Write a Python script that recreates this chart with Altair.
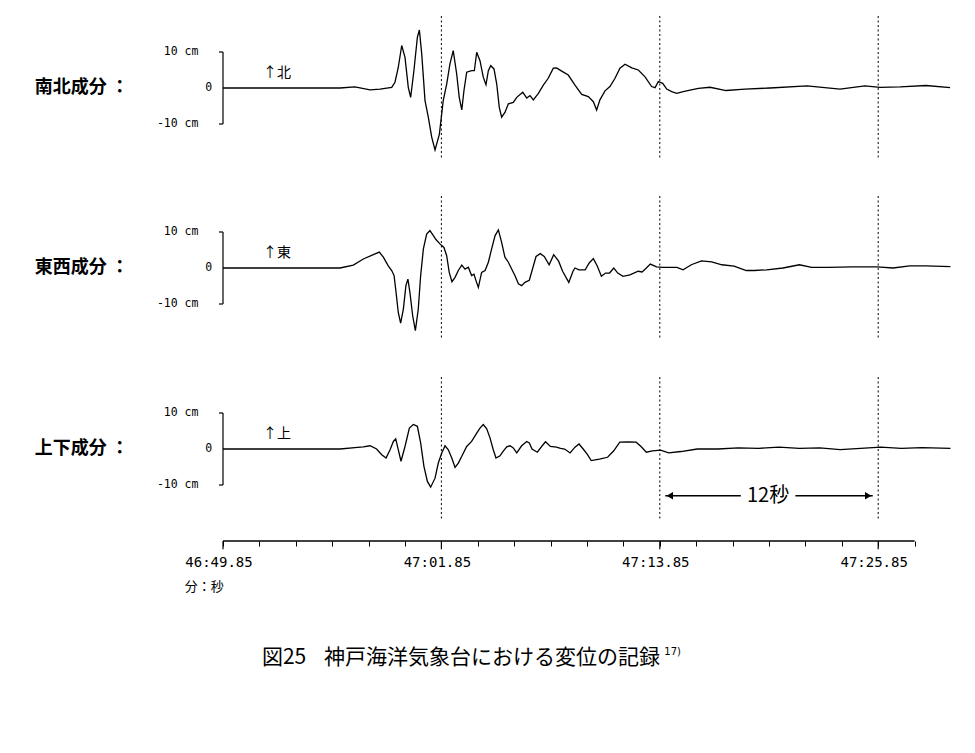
import altair as alt
import pandas as pd

# ---------------- data (time: seconds after 46:49.85, displacement: cm) ----------------
NS = [(0, 0), (6.43, 0), (7.25, 0.3), (8.08, -0.5), (8.63, -0.3), (9.27, 0.2), (9.45, 1.6),
      (9.63, 5.7), (9.82, 11.8), (10.0, 8.5), (10.18, 0.2), (10.31, -2.6), (10.49, 4.8),
      (10.68, 14.1), (10.79, 16.1), (10.92, 9.4), (11.10, -3.5), (11.28, -8.1), (11.47, -13.7),
      (11.65, -17.2), (11.89, -12.8), (12.10, -3.5), (12.29, 1.1), (12.47, 6.7), (12.65, 10.4),
      (12.84, 3.9), (12.98, -2.6), (13.12, -6.1), (13.24, -0.7), (13.39, 4.4), (13.66, 4.8),
      (13.81, 4.8), (13.94, 9.9), (14.12, 7.6), (14.30, 3.0), (14.45, 0.9), (14.58, 4.8),
      (14.71, 6.2), (14.89, 5.3), (15.04, 1.1), (15.18, -5.4), (15.31, -8.1), (15.49, -6.8),
      (15.68, -4.4), (15.95, -4.0), (16.14, -2.6), (16.47, -1.2), (16.69, -2.8), (16.87, -2.1),
      (17.05, -3.3), (17.33, -1.5), (17.60, 0.8), (17.87, 2.7), (18.15, 5.5), (18.33, 5.6),
      (18.61, 4.7), (18.97, 3.6), (19.34, 0.8), (19.71, -1.8), (20.07, -2.4), (20.35, -3.8),
      (20.53, -6.1), (20.71, -3.3), (20.99, -0.8), (21.26, 0.4), (21.54, 2.7), (21.81, 5.5),
      (22.09, 6.6), (22.46, 5.6), (22.82, 5.0), (23.19, 3.1), (23.55, 0.4), (23.74, 0.1),
      (23.92, 1.8), (24.16, 1.3), (24.38, -0.3), (24.65, -1.0), (24.93, -1.5), (25.29, -1.0),
      (25.66, -0.6), (26.12, -0.1), (26.76, 0.2), (27.64, -0.7), (28.68, -0.3), (30.05, 0.0),
      (32.09, 0.6), (33.90, -0.3), (35.27, 0.6), (36.10, 0.2), (37.20, 0.3), (38.63, 0.7),
      (39.95, 0.1)]

EW = [(0, 0), (6.43, 0), (7.16, 0.8), (7.71, 2.5), (8.26, 3.7), (8.59, 4.4), (8.81, 3.0),
      (9.08, 0.6), (9.27, -0.7), (9.40, -2.1), (9.51, -6.8), (9.63, -12.3), (9.76, -15.3),
      (9.91, -11.4), (10.05, -4.9), (10.16, -3.1), (10.27, -6.8), (10.42, -13.2), (10.57, -17.4),
      (10.73, -11.4), (10.86, -2.1), (11.01, 5.3), (11.19, 9.4), (11.37, 10.4), (11.56, 9.0),
      (11.70, 7.9), (11.92, 6.7), (12.14, 5.7), (12.29, 3.4), (12.43, -1.2), (12.58, -3.8),
      (12.75, -2.6), (12.93, -0.7), (13.12, 0.8), (13.30, -0.3), (13.48, 0.2), (13.66, -2.1),
      (13.79, -1.7), (13.90, -3.5), (14.03, -5.4), (14.21, -1.2), (14.40, -0.7), (14.58, 1.6),
      (14.76, 5.3), (14.95, 9.0), (15.13, 10.6), (15.31, 7.1), (15.49, 3.0), (15.68, 1.6),
      (15.86, -0.3), (16.04, -2.1), (16.23, -4.4), (16.41, -4.9), (16.59, -4.0), (16.83, -3.4),
      (17.20, 3.2), (17.43, 4.0), (17.65, 3.2), (17.92, 0.9), (18.17, 3.7), (18.44, 1.9),
      (18.66, -0.9), (19.00, -4.0), (19.23, -0.9), (19.34, 0.0), (19.56, -0.5), (19.90, -0.5),
      (20.12, 1.4), (20.35, 2.6), (20.57, 0.5), (20.79, -2.3), (21.02, -1.4), (21.24, -1.4),
      (21.47, 0.0), (21.69, -1.4), (21.98, -2.3), (22.36, -1.9), (22.81, -0.9), (23.03, -1.1),
      (23.26, 0.0), (23.48, 1.1), (23.82, 0.3), (24.16, 0.2), (24.94, 0.2), (25.28, -0.5),
      (25.73, 0.9), (26.29, 2.0), (26.85, 1.7), (27.41, 0.9), (28.08, 0.5), (28.75, -0.7),
      (29.20, -0.7), (29.87, -0.5), (30.77, 0.0), (31.67, 0.9), (32.34, 0.2), (33.24, 0.2),
      (34.58, 0.3), (35.93, 0.3), (36.82, 0.0), (37.73, 0.6), (38.62, 0.6), (39.97, 0.4)]

UD = [(0, 0), (6.43, 0), (7.25, 0.4), (7.71, 0.6), (8.08, 0.9), (8.44, 0.0), (8.72, -1.6),
      (8.96, -2.5), (9.18, -0.2), (9.36, 2.1), (9.49, 2.8), (9.63, -0.2), (9.78, -3.4),
      (10.0, 0.7), (10.24, 5.8), (10.46, 6.8), (10.68, 6.3), (10.86, 1.7), (11.04, -4.8),
      (11.23, -9.0), (11.41, -10.6), (11.65, -8.1), (11.83, -3.9), (12.02, -1.1), (12.20, 0.9),
      (12.38, -0.2), (12.57, -2.5), (12.75, -5.1), (12.93, -3.9), (13.12, -2.0), (13.39, 0.7),
      (13.66, 2.1), (13.94, 4.4), (14.12, 5.8), (14.30, 6.8), (14.49, 5.6), (14.67, 3.1),
      (14.85, -0.2), (15.0, -2.5), (15.22, -1.9), (15.40, -0.6), (15.59, 0.6), (15.77, 0.9),
      (15.95, 0.3), (16.14, -1.1), (16.41, 0.9), (16.69, 2.1), (16.83, 1.7), (16.98, 0.0),
      (17.27, -0.9), (17.54, 0.9), (17.72, 2.0), (17.99, 0.7), (18.32, 0.5), (18.55, 0.2),
      (18.77, 0.0), (19.07, -1.1), (19.34, 0.5), (19.56, 1.4), (19.79, 0.0), (20.01, -1.4),
      (20.23, -3.2), (20.68, -2.8), (21.13, -2.3), (21.47, -0.5), (21.80, 1.9), (22.25, 2.0),
      (22.70, 1.9), (22.97, 0.7), (23.26, -0.9), (23.59, -0.5), (24.04, -0.3), (24.49, -1.1),
      (25.16, -0.7), (26.06, 0.0), (27.19, 0.0), (28.31, 0.3), (29.43, 0.2), (30.55, 0.5),
      (31.67, 0.2), (32.79, 0.3), (33.91, -0.2), (35.03, 0.2), (36.15, 0.5), (37.27, 0.2),
      (38.40, 0.4), (39.97, 0.2)]

SERIES = [NS, EW, UD]
PANEL_NAMES = ["南北成分 ：", "東西成分 ：", "上下成分 ："]
ARROW_LABELS = ["↑北", "↑東", "↑上"]
Y_TICKS = [10, 0, -10]
Y_LABELS = ["10\u00a0cm", "0", "-10\u00a0cm"]
MINOR_TICKS = list(range(0, 39, 2))
MAJOR_TICKS = [0, 12, 24, 36]
TIME_LABELS = ["46:49.85", "47:01.85", "47:13.85", "47:25.85"]
MARKER_TIMES = [12, 24, 36]
SPAN_START, SPAN_END = 24, 36
SPAN_LABEL = "12秒"
AXIS_UNIT = "分：秒"
CAPTION_A = "図25"
CAPTION_B = "神戸海洋気象台における変位の記録"
CAPTION_REF = "17)"

# ---------------- layout ----------------
W, H = 959, 533            # plot area (page x 8..967, y 8..541)
PX_S, PX_CM = 18.2, 3.6     # pixels per second / per cm
X0 = 215                    # plot px of t = 0
x_dom = [-X0 / PX_S, (W - X0) / PX_S]
y_dom = [0, H / PX_CM]
ZERO_PX = [80, 260, 441]    # plot px of each panel's zero line
BASE = [(H - z) / PX_CM for z in ZERO_PX]


def ypx(page_y):
    return (H - (page_y - 8)) / PX_CM


xscale = alt.Scale(domain=x_dom, nice=False, zero=False)
yscale = alt.Scale(domain=y_dom, nice=False, zero=False)
xaxis = alt.Axis(values=MINOR_TICKS, domain=False, grid=False, ticks=True, tickSize=5,
                 tickColor="black", tickWidth=1, labels=False, title=None)


def X(f):
    return alt.X(f, type="quantitative", scale=xscale, axis=xaxis)


def Y(f):
    return alt.Y(f, type="quantitative", scale=yscale, axis=None)


# traces
rows = []
for k, ser in enumerate(SERIES):
    for t, cm in ser:
        rows.append({"t": t, "Y": BASE[k] + cm, "panel": k})
traces = pd.DataFrame(rows)
trace_layer = alt.Chart(traces).mark_line(color="black", strokeWidth=1.3, interpolate="linear").encode(
    x=X("t"), y=Y("Y"), detail="panel:N", order="t:Q")

# dotted markers
dots = pd.DataFrame([{"t": m, "y1": BASE[k] + 20, "y2": BASE[k] - 20}
                     for k in range(3) for m in MARKER_TIMES])
dot_layer = alt.Chart(dots).mark_rule(color="black", strokeWidth=1, strokeDash=[2, 2.5]).encode(
    x=X("t"), y=Y("y1"), y2="y2")

# y brackets
brk = pd.DataFrame([{"t": 0, "y1": BASE[k] + 10, "y2": BASE[k] - 10} for k in range(3)])
brk_layer = alt.Chart(brk).mark_rule(color="black", strokeWidth=1.2).encode(x=X("t"), y=Y("y1"), y2="y2")
caps = pd.DataFrame([{"t1": -0.22, "t2": 0, "y": BASE[k] + s} for k in range(3) for s in (10, -10)])
cap_layer = alt.Chart(caps).mark_rule(color="black", strokeWidth=1.2).encode(x=X("t1"), x2="t2", y=Y("y"))

# y labels
ylab = pd.DataFrame([{"t": (-1.35 if v != 0 else -0.6), "y": BASE[k] + v, "txt": l}
                     for k in range(3) for v, l in zip(Y_TICKS, Y_LABELS)])
ylab_layer = alt.Chart(ylab).mark_text(align="right", baseline="middle", font="DejaVu Sans Mono",
                                       fontSize=11.5, color="black").encode(x=X("t"), y=Y("y"), text="txt:N")

# panel names
pn = pd.DataFrame([{"t": -10.35, "y": BASE[k], "txt": PANEL_NAMES[k]} for k in range(3)])
pn_layer = alt.Chart(pn).mark_text(align="left", baseline="middle", font="Noto Sans CJK JP",
                                   fontSize=18, fontWeight="bold", color="black").encode(
    x=X("t"), y=Y("y"), text="txt:N")

# direction labels
ar = pd.DataFrame([{"t": 2.2, "y": BASE[k] + 4.3, "txt": ARROW_LABELS[k]} for k in range(3)])
ar_layer = alt.Chart(ar).mark_text(align="left", baseline="middle", font="Noto Sans CJK JP",
                                   fontSize=14, color="black").encode(x=X("t"), y=Y("y"), text="txt:N")

# time axis line + major ticks + labels
axl = pd.DataFrame([{"t1": MINOR_TICKS[0], "t2": MINOR_TICKS[-1], "y": 0}])
axl_layer = alt.Chart(axl).mark_rule(color="black", strokeWidth=1.6).encode(x=X("t1"), x2="t2", y=Y("y"))
mj = pd.DataFrame([{"t": m, "y1": 0, "y2": -2.3} for m in MAJOR_TICKS])
mj_layer = alt.Chart(mj).mark_rule(color="black", strokeWidth=1.2).encode(x=X("t"), y=Y("y1"), y2="y2")
tl = pd.DataFrame([{"t": m - 0.22, "y": ypx(563), "txt": l} for m, l in zip(MAJOR_TICKS, TIME_LABELS)])
tl_layer = alt.Chart(tl).mark_text(align="center", baseline="middle", font="DejaVu Sans Mono",
                                   fontSize=14, color="black").encode(x=X("t"), y=Y("y"), text="txt:N")

unit = pd.DataFrame([{"t": -2.1, "y": ypx(587), "txt": AXIS_UNIT}])
unit_layer = alt.Chart(unit).mark_text(align="left", baseline="middle", font="Noto Sans CJK JP",
                                       fontSize=13, color="black").encode(x=X("t"), y=Y("y"), text="txt:N")

# 12 s span arrow
span_y = BASE[2] - 13.0
mid = (SPAN_START + SPAN_END) / 2
seg = pd.DataFrame([{"t1": SPAN_START + 0.3, "t2": mid - 1.55, "y": span_y},
                    {"t1": mid + 1.45, "t2": SPAN_END - 0.3, "y": span_y}])
seg_layer = alt.Chart(seg).mark_rule(color="black", strokeWidth=1.6).encode(x=X("t1"), x2="t2", y=Y("y"))
heads = pd.DataFrame([{"t": SPAN_START + 0.55, "y": span_y, "s": "triangle-left"},
                      {"t": SPAN_END - 0.55, "y": span_y, "s": "triangle-right"}])
head_layer = alt.Chart(heads).mark_point(filled=True, color="black", size=55, opacity=1).encode(
    x=X("t"), y=Y("y"), shape=alt.Shape("s:N", scale=None, legend=None))
sl = pd.DataFrame([{"t": mid - 0.05, "y": span_y, "txt": SPAN_LABEL}])
sl_layer = alt.Chart(sl).mark_text(align="center", baseline="middle", font="Noto Sans CJK JP",
                                   fontSize=20, color="black").encode(x=X("t"), y=Y("y"), text="txt:N")

# caption
cap = pd.DataFrame([{"t": 2.14, "y": ypx(658), "txt": CAPTION_A},
                    {"t": 5.55, "y": ypx(658), "txt": CAPTION_B}])
capt_layer = alt.Chart(cap).mark_text(align="left", baseline="middle", font="Noto Sans CJK JP",
                                      fontSize=21, color="black").encode(x=X("t"), y=Y("y"), text="txt:N")
ref = pd.DataFrame([{"t": 24.25, "y": ypx(652), "txt": CAPTION_REF}])
ref_layer = alt.Chart(ref).mark_text(align="left", baseline="middle", font="DejaVu Sans",
                                     fontSize=10, color="black").encode(x=X("t"), y=Y("y"), text="txt:N")

chart = alt.layer(
    dot_layer, trace_layer, brk_layer, cap_layer, ylab_layer, pn_layer, ar_layer,
    axl_layer, mj_layer, tl_layer, unit_layer, seg_layer, head_layer, sl_layer, capt_layer, ref_layer
).properties(
    width=W, height=H,
    padding={"left": 0, "top": 0, "right": 0, "bottom": 204},
    autosize=alt.AutoSizeParams(type="none"),
    background="white",
).configure_view(stroke=None)

chart.save("out.html", embed_options={"renderer": "svg", "actions": False})
